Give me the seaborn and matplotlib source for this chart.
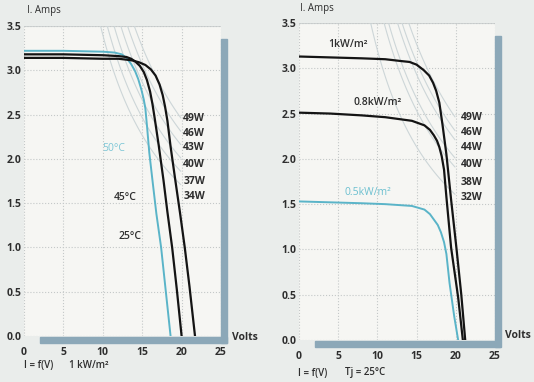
"""I-V curves of a solar module: temperature and irradiance influence."""

import numpy as np
import matplotlib.pyplot as plt
from matplotlib.patches import Rectangle
import seaborn as sns

# ---- left panel: 1 kW/m2 at three cell temperatures ----
v_50c = [0, 5, 10, 11.5, 12.4, 13.0, 13.6, 14.1, 14.5, 14.9, 15.2, 15.4, 15.6, 15.9, 16.3, 16.8, 17.4, 18.0, 18.6]
i_50c = [3.22, 3.22, 3.21, 3.20, 3.18, 3.14, 3.07, 2.99, 2.90, 2.78, 2.67, 2.57, 2.38, 2.07, 1.76, 1.38, 1.00, 0.50, 0.0]

v_45c = [0, 5, 10, 12, 13, 13.6, 14.1, 14.7, 15.2, 15.6, 16.0, 16.3, 16.6, 17.1, 17.7, 18.2, 18.8, 19.4, 20.0]
i_45c = [3.18, 3.18, 3.17, 3.16, 3.15, 3.13, 3.10, 3.05, 2.98, 2.89, 2.76, 2.62, 2.45, 2.15, 1.76, 1.40, 1.00, 0.52, 0.0]

v_25c = [0, 5, 10, 12, 13, 13.8, 14.6, 15.4, 16.1, 16.7, 17.2, 17.6, 17.9, 18.2, 18.6, 19.2, 19.8, 20.4, 21.0, 21.7]
i_25c = [3.14, 3.14, 3.13, 3.13, 3.12, 3.11, 3.09, 3.06, 3.01, 2.94, 2.84, 2.72, 2.59, 2.43, 2.14, 1.76, 1.39, 1.00, 0.56, 0.0]

left_watts = [49, 46, 43, 40, 37, 34]

# ---- right panel: Tj = 25 C at three irradiance levels ----
v_1kw = [0, 4, 8, 11, 13, 14.1, 15.0, 15.9, 16.6, 17.1, 17.5, 17.9, 18.3, 18.8, 19.4, 20.1, 20.7, 21.2]
i_1kw = [3.13, 3.12, 3.11, 3.10, 3.08, 3.07, 3.04, 2.98, 2.92, 2.84, 2.75, 2.62, 2.38, 2.05, 1.55, 1.00, 0.50, 0.0]

v_08kw = [0, 4, 8, 11, 14.4, 16.0, 16.7, 17.2, 17.6, 17.9, 18.2, 18.5, 18.8, 19.4, 20.3, 20.9]
i_08kw = [2.51, 2.50, 2.48, 2.46, 2.42, 2.37, 2.32, 2.26, 2.20, 2.13, 2.03, 1.88, 1.58, 1.02, 0.47, 0.0]

v_05kw = [0, 4, 8, 11, 14.4, 16.0, 16.7, 17.2, 17.7, 18.1, 18.5, 18.8, 19.2, 19.8, 20.3]
i_05kw = [1.53, 1.52, 1.51, 1.50, 1.48, 1.44, 1.39, 1.33, 1.27, 1.19, 1.08, 0.95, 0.63, 0.26, 0.0]

right_watts = [49, 46, 44, 40, 38, 32]

W, H = 534, 382
BLACK = '#141414'
CYAN = '#5ab4c8'
BAR = '#8ca8b8'
ISO = '#cdd6d8'
TXT = '#2e2e2e'


def fig_xy(x, y):
    return x / W, 1 - y / H


def add_panel(fig, rect, curves, watts, watt_x):
    ax = fig.add_axes(rect)
    ax.set_facecolor('#f6f6f3')

    # iso-power guides
    for p in watts:
        vv = np.linspace(p / 3.5, 19.9, 60)
        ax.plot(vv, p / vv, color=ISO, lw=0.8, zorder=1)

    for v, i, col, lw in curves:
        sns.lineplot(x=v, y=i, ax=ax, color=col, lw=lw, estimator=None,
                     sort=False, zorder=3)

    label_y = [2.46, 2.29, 2.13, 1.94, 1.74, 1.57]
    for p, yy in zip(watts, label_y):
        ax.text(watt_x, yy, f'{p}W', fontsize=7.5, fontweight='bold',
                color=TXT, va='center', ha='left', zorder=4)

    ax.set_xlim(0, 25)
    ax.set_ylim(0, 3.5)
    ax.set_xticks(range(0, 26, 5))
    ax.set_yticks(np.arange(0, 3.51, 0.5))
    ax.set_yticklabels([f'{t:.1f}' for t in np.arange(0, 3.51, 0.5)])
    ax.tick_params(length=0, labelsize=7.5, colors=TXT)
    ax.tick_params(axis='x', pad=8)
    ax.tick_params(axis='y', pad=2)
    for lab in ax.get_xticklabels() + ax.get_yticklabels():
        lab.set_fontweight('bold')
    for s in ax.spines.values():
        s.set_visible(False)
    ax.grid(True, color='#c4c8c8', ls=':', lw=0.8, zorder=0)
    ax.axhline(3.5, color='#cfd3d3', lw=0.8, zorder=0)
    ax.set_xlabel('')
    ax.set_ylabel('')

    # blue-gray 3D frame bars
    ax.add_patch(Rectangle((2.0, -0.075), 23.7, 0.065, color=BAR,
                           clip_on=False, zorder=2))
    ax.add_patch(Rectangle((25.05, -0.075), 0.7, 3.43, color=BAR,
                           clip_on=False, zorder=2))
    return ax


sns.set_theme(style='white')
plt.rcParams['font.family'] = ['Open Sans', 'DejaVu Sans']

fig = plt.figure(figsize=(W / 100, H / 100), dpi=100, facecolor='#eaedeb')

ax1 = add_panel(
    fig, [24 / W, 46 / H, 197 / W, 310 / H],
    [(v_50c, i_50c, CYAN, 1.4), (v_45c, i_45c, BLACK, 1.6), (v_25c, i_25c, BLACK, 1.6)],
    left_watts, 20.2)
ax1.text(11.4, 2.12, '50°C', fontsize=7.5, color='#7cc6d6', ha='center', va='center')
ax1.text(12.9, 1.56, '45°C', fontsize=7.5, fontweight='semibold', color=TXT, ha='center', va='center')
ax1.text(13.4, 1.12, '25°C', fontsize=7.5, fontweight='semibold', color=TXT, ha='center', va='center')

ax2 = add_panel(
    fig, [299 / W, 42 / H, 196 / W, 317 / H],
    [(v_05kw, i_05kw, CYAN, 1.4), (v_08kw, i_08kw, BLACK, 1.6), (v_1kw, i_1kw, BLACK, 1.6)],
    right_watts, 20.6)
ax2.text(6.3, 3.26, '1kW/m²', fontsize=7.5, fontweight='semibold', color=TXT, ha='center', va='center')
ax2.text(10.0, 2.62, '0.8kW/m²', fontsize=7.5, fontweight='semibold', color=TXT, ha='center', va='center')
ax2.text(8.8, 1.63, '0.5kW/m²', fontsize=7.5, color='#6cc0d0', ha='center', va='center')

# axis titles and captions
fig.text(*fig_xy(27, 11), 'I. Amps', fontsize=7, color=TXT, va='center')
fig.text(*fig_xy(300, 8), 'I. Amps', fontsize=7, color=TXT, va='center')
fig.text(*fig_xy(232, 338), 'Volts', fontsize=7.5, fontweight='bold', color=TXT, va='center')
fig.text(*fig_xy(505, 336), 'Volts', fontsize=7.5, fontweight='bold', color=TXT, va='center')
fig.text(*fig_xy(24, 366), 'I = f(V)', fontsize=7, fontweight='semibold', color=TXT, va='center')
fig.text(*fig_xy(69, 366), '1 kW/m²', fontsize=7, fontweight='semibold', color=TXT, va='center')
fig.text(*fig_xy(298, 373), 'I = f(V)', fontsize=7, fontweight='semibold', color=TXT, va='center')
fig.text(*fig_xy(345, 373), 'Tj = 25°C', fontsize=7, fontweight='semibold', color=TXT, va='center')

fig.savefig('out.png', dpi=100, facecolor=fig.get_facecolor())
